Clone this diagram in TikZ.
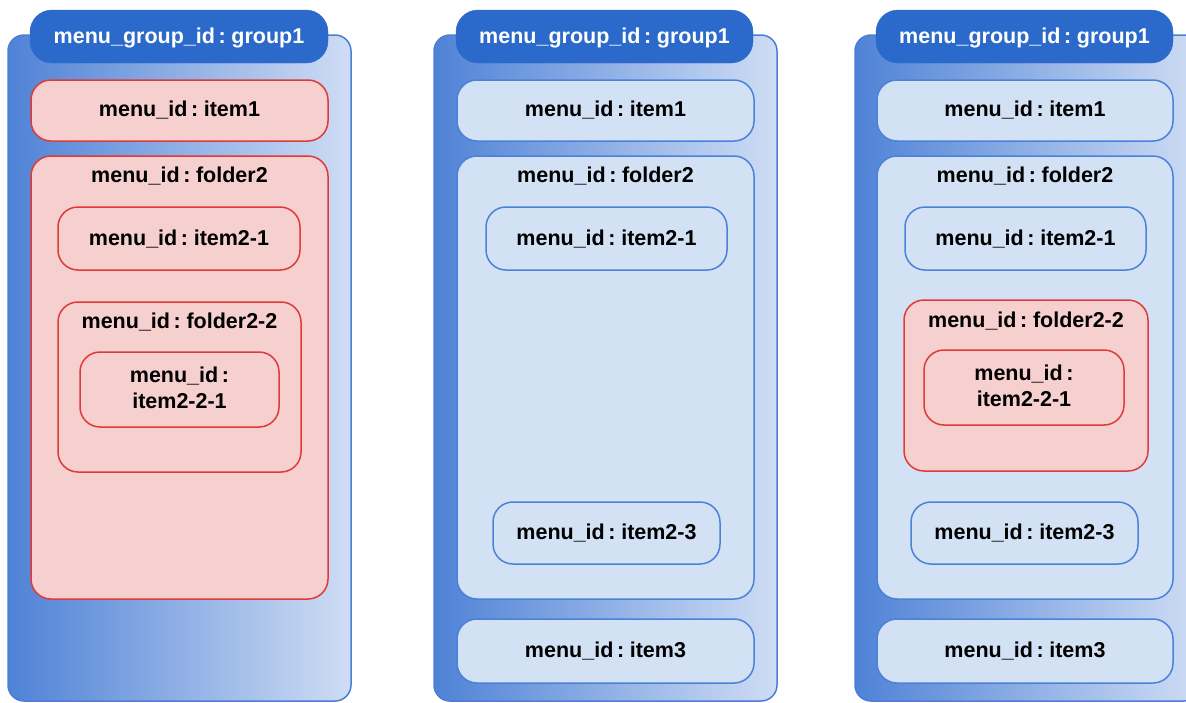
\documentclass[tikz,border=0pt]{standalone}
\usepackage{fontspec}
\setmainfont{Liberation Sans}
\usetikzlibrary{fit}
\definecolor{pborder}{HTML}{4A7FD6}
\definecolor{pleft}{HTML}{4F82D6}
\definecolor{pright}{HTML}{CFDDF4}
\definecolor{hdr}{HTML}{2B69CB}
\definecolor{bborder}{HTML}{4B82D9}
\definecolor{bfill}{HTML}{D3E1F5}
\definecolor{rborder}{HTML}{E03A3A}
\definecolor{rfill}{HTML}{F6CFCF}
\newcommand{\lblfont}{\bfseries\fontsize{21.5}{26}\selectfont\spaceskip=0.17em\relax}
\begin{document}
\begin{tikzpicture}[x=1pt,y=-1pt,
  panel/.style={draw=pborder, line width=1.5pt, rounded corners=16pt, left color=pleft, right color=pright, inner sep=0pt},
  header/.style={fill=hdr, draw=hdr, rounded corners=22pt, inner sep=0pt},
  bbox/.style={draw=bborder, fill=bfill, line width=1.5pt, rounded corners=20pt, inner sep=0pt},
  rbox/.style={draw=rborder, fill=rfill, line width=1.5pt, rounded corners=20pt, inner sep=0pt},
  lbl/.style={font=\lblfont, anchor=base, inner sep=0pt},
  hlbl/.style={lbl, text=white},
  mlbl/.style={font=\lblfont, align=center, inner sep=0pt}]
\useasboundingbox (0,0) rectangle (1186,702);
\fill[white] (0,0) rectangle (1186,702);
\clip (0,0) rectangle (1186,702);

% ---------- panel 1 ----------
\node[panel, fit={(8,35) (351,701)}] (p1) {};
\node[header, fit={(30,10) (328,63)}] (p1h) {};
\node[hlbl] (p1ht) at (179,43) {menu\_group\_id : group1};
\node[rbox, fit={(31,80) (328,141)}] (p1i1) {};
\node[lbl] (p1i1t) at (179.5,116) {menu\_id : item1};
\node[rbox, fit={(31,156) (328,599)}] (p1f2) {};
\node[lbl] (p1f2t) at (179.5,182) {menu\_id : folder2};
\node[rbox, fit={(58,207) (300,270)}] (p1i21) {};
\node[lbl] (p1i21t) at (179,245) {menu\_id : item2-1};
\node[rbox, fit={(58,302) (301,472)}] (p1f22) {};
\node[lbl] (p1f22t) at (179.5,328) {menu\_id : folder2-2};
\node[rbox, fit={(80,352) (279,427)}] (p1i221) {};
\node[mlbl] (p1i221t) at (179.5,388) {menu\_id :\\item2-2-1};

% ---------- panel 2 ----------
\node[panel, fit={(434,35) (777,701)}] (p2) {};
\node[header, fit={(456,10) (753,63)}] (p2h) {};
\node[hlbl] (p2ht) at (604.5,43) {menu\_group\_id : group1};
\node[bbox, fit={(457,80) (754,141)}] (p2i1) {};
\node[lbl] (p2i1t) at (605.5,116) {menu\_id : item1};
\node[bbox, fit={(457,156) (754,599)}] (p2f2) {};
\node[lbl] (p2f2t) at (605.5,182) {menu\_id : folder2};
\node[bbox, fit={(486,207) (727,270)}] (p2i21) {};
\node[lbl] (p2i21t) at (606.5,245) {menu\_id : item2-1};
\node[bbox, fit={(493,502) (720,564)}] (p2i23) {};
\node[lbl] (p2i23t) at (606.5,539) {menu\_id : item2-3};
\node[bbox, fit={(457,619) (754,683)}] (p2i3) {};
\node[lbl] (p2i3t) at (605.5,657) {menu\_id : item3};

% ---------- panel 3 ----------
\node[panel, fit={(855,35) (1200,701)}] (p3) {};
\node[header, fit={(876,10) (1173,63)}] (p3h) {};
\node[hlbl] (p3ht) at (1024.5,43) {menu\_group\_id : group1};
\node[bbox, fit={(877,80) (1173,141)}] (p3i1) {};
\node[lbl] (p3i1t) at (1025,116) {menu\_id : item1};
\node[bbox, fit={(877,156) (1173,599)}] (p3f2) {};
\node[lbl] (p3f2t) at (1025,182) {menu\_id : folder2};
\node[bbox, fit={(905,207) (1146,270)}] (p3i21) {};
\node[lbl] (p3i21t) at (1025.5,245) {menu\_id : item2-1};
\node[rbox, fit={(904,300) (1148,471)}] (p3f22) {};
\node[lbl] (p3f22t) at (1026,327) {menu\_id : folder2-2};
\node[rbox, fit={(924,350) (1124,425)}] (p3i221) {};
\node[mlbl] (p3i221t) at (1024,386) {menu\_id :\\item2-2-1};
\node[bbox, fit={(911,502) (1138,564)}] (p3i23) {};
\node[lbl] (p3i23t) at (1024.5,539) {menu\_id : item2-3};
\node[bbox, fit={(877,619) (1173,683)}] (p3i3) {};
\node[lbl] (p3i3t) at (1025,657) {menu\_id : item3};
\end{tikzpicture}
\end{document}
